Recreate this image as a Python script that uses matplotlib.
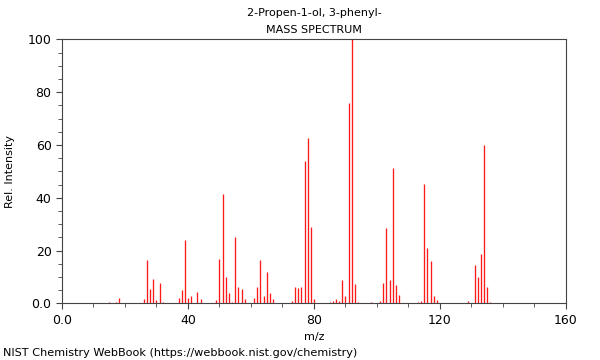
import matplotlib
matplotlib.use('Agg')
import matplotlib.pyplot as plt
from matplotlib.ticker import MultipleLocator

# peaks
mz = [15, 17, 18, 26, 27, 28, 29, 30, 31, 32, 37, 38, 39, 40, 41, 42, 43, 44,
      49, 50, 51, 52, 53, 54, 55, 56, 57, 58, 61, 62, 63, 64, 65, 66, 67,
      73, 74, 75, 76, 77, 78, 79, 80, 85, 86, 87, 88, 89, 90, 91, 92, 93, 94,
      98, 101, 102, 103, 104, 105, 106, 107, 113, 114, 115, 116, 117, 118, 119,
      129, 131, 132, 133, 134, 135, 136]
intensity = [0.5, 0.4, 1.9, 1.75, 16.4, 5.5, 9.1, 1.25, 7.6, 0.5, 2.1, 4.9, 23.9, 2.0, 2.8, 0.3, 4.2, 1.5,
             1.1, 16.6, 41.4, 9.8, 4.0, 0.5, 25.0, 6.2, 5.4, 1.8, 2.0, 6.2, 16.4, 2.9, 11.9, 3.8, 1.6,
             0.9, 6.2, 5.9, 6.2, 54.0, 62.7, 29.0, 1.6, 0.6, 1.0, 1.7, 0.9, 8.9, 2.8, 75.9, 100, 7.3, 0.5,
             0.5, 1.0, 7.7, 28.5, 8.8, 51.2, 7.1, 3.2, 0.4, 0.9, 45.2, 21.0, 16.0, 2.9, 1.25,
             0.75, 14.5, 9.8, 18.7, 60.0, 6.1, 0.4]

x_ticks = [0, 40, 80, 120, 160]
x_labels = ['0.0', '40', '80', '120', '160']
y_ticks = [0, 20, 40, 60, 80, 100]
y_labels = ['0.0', '20', '40', '60', '80', '100']

plt.rcParams['font.family'] = 'DejaVu Sans'
fig = plt.figure(figsize=(6, 3.6), dpi=100)
ax = fig.add_axes([0.1033, 0.1575, 0.84, 0.7333])

ax.vlines(mz, 0, intensity, color='#ff1a1a', linewidth=0.95)

ax.set_xlim(0, 160)
ax.set_ylim(0, 100)
ax.set_xticks(x_ticks)
ax.set_xticklabels(x_labels)
ax.set_yticks(y_ticks)
ax.set_yticklabels(y_labels)
ax.xaxis.set_minor_locator(MultipleLocator(10))
ax.yaxis.set_minor_locator(MultipleLocator(5))
ax.tick_params(which='both', direction='out', labelsize=9, color='#444444')
ax.tick_params(which='major', length=4)
ax.tick_params(which='minor', length=3)
for s in ax.spines.values():
    s.set_color('#444444')
    s.set_linewidth(0.8)

ax.set_xlabel('m/z', fontsize=8)
ax.set_ylabel('Rel. Intensity', fontsize=8, labelpad=9)
ax.text(0.5, 1.0996, '2-Propen-1-ol, 3-phenyl-', transform=ax.transAxes,
        ha='center', va='center', fontsize=8)
ax.text(0.5, 1.035, 'MASS SPECTRUM', transform=ax.transAxes,
        ha='center', va='center', fontsize=8)
fig.text(0.005, 0.02, 'NIST Chemistry WebBook (https://webbook.nist.gov/chemistry)',
         ha='left', va='center', fontsize=8.15)

fig.savefig('out.png', dpi=100)
